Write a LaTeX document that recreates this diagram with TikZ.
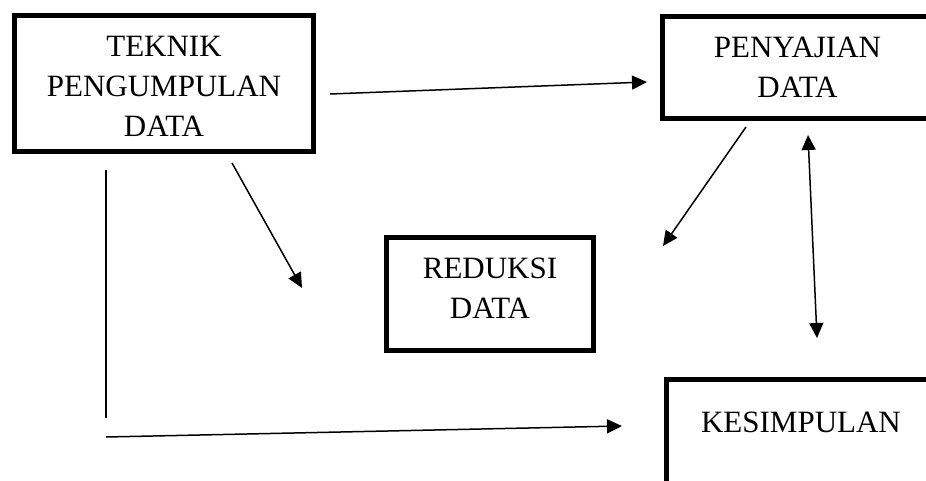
\documentclass[tikz,border=0pt]{standalone}
\usepackage{fontspec}
\setmainfont{Liberation Serif}
\usetikzlibrary{arrows.meta}
\tikzset{
  kotak/.style={draw, line width=5pt, align=center, inner sep=0pt, fill=white,
    font=\fontsize{31}{40}\selectfont},
  garis/.style={line width=1.5pt},
  panah/.style={garis, -{Triangle[length=15pt,width=14pt]}},
  panahdua/.style={garis, {Triangle[length=15pt,width=14pt]}-{Triangle[length=15pt,width=14pt]}},
}
\begin{document}
\begin{tikzpicture}[x=1pt,y=-1pt]
  \useasboundingbox (0,0) rectangle (926,481);
  \clip (0,0) rectangle (926,481);
  \node[kotak, minimum width=299, minimum height=136, text height=107pt, text depth=0pt] (teknik) at (164,83.5) {TEKNIK\\PENGUMPULAN\\DATA};
  \node[kotak, minimum width=270, minimum height=102, text height=61pt, text depth=0pt] (penyajian) at (797.5,67.5) {PENYAJIAN\\DATA};
  \node[kotak, minimum width=207, minimum height=113, text height=61pt, text depth=13pt] (reduksi) at (490,294) {REDUKSI\\DATA};
  \node[kotak, minimum width=269, minimum height=118, text height=21pt, text depth=34pt] (kesimpulan) at (801,438.5) {KESIMPULAN};
  % titik ujung panah
  \coordinate (a1) at (330,94);   \coordinate (b1) at (647,82);
  \coordinate (a2) at (232,163);  \coordinate (b2) at (302,288);
  \coordinate (a3) at (746,127);  \coordinate (b3) at (663,246);
  \coordinate (a4) at (808,135);  \coordinate (b4) at (817,338);
  \coordinate (a5) at (106,170);  \coordinate (b5) at (106,418);
  \coordinate (a6) at (106,437);  \coordinate (b6) at (622,426);
  \draw[panah] (a1) -- (b1);
  \draw[panah] (a2) -- (b2);
  \draw[panah] (a3) -- (b3);
  \draw[panahdua] (a4) -- (b4);
  \draw[garis] (a5) -- (b5);
  \draw[panah] (a6) -- (b6);
\end{tikzpicture}
\end{document}
